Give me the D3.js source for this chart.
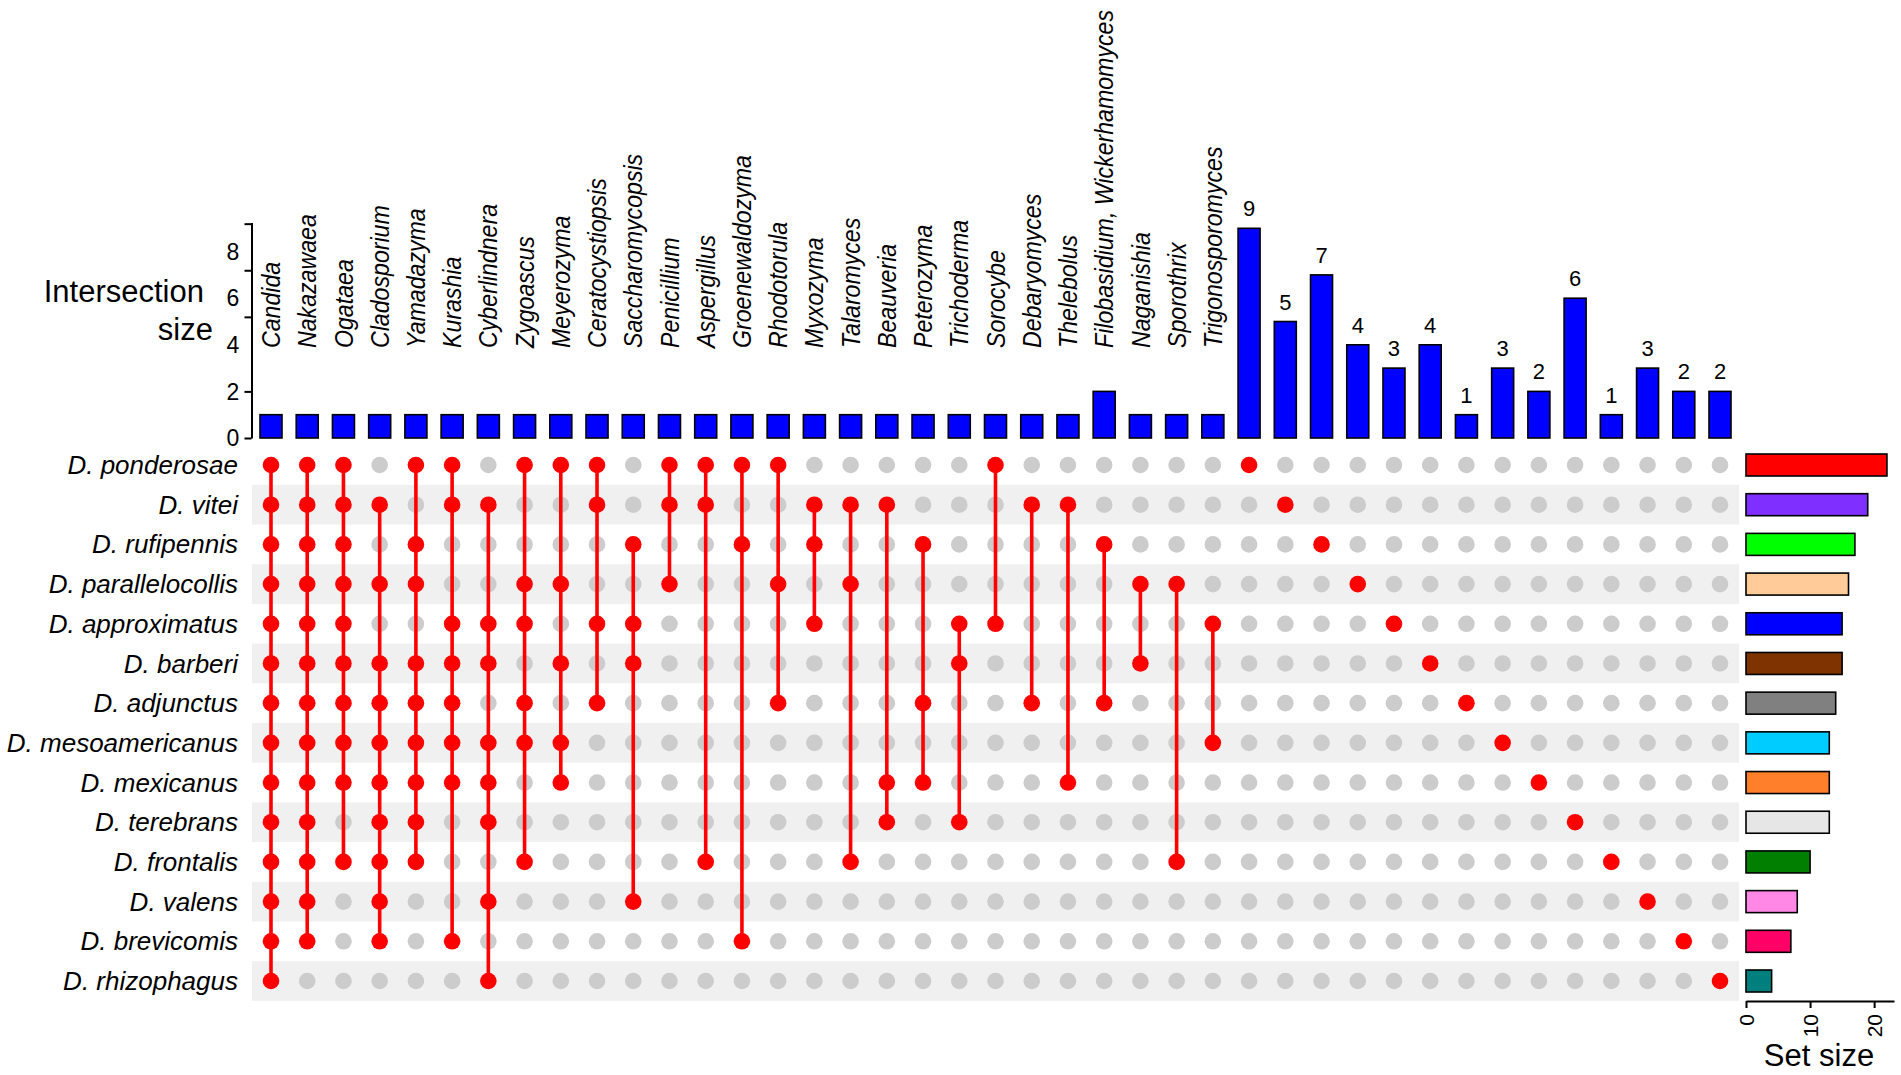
<!DOCTYPE html>
<html>
<head>
<meta charset="utf-8">
<script src="https://cdn.jsdelivr.net/npm/d3@7"></script>
<style>
  body { margin: 0; background: #fff; }
  text { font-family: "Liberation Sans", Arial, sans-serif; fill: #000; }
</style>
</head>
<body>
<div id="upset"></div>
<script>
// sets (rows of the matrix), top to bottom
const sets = ["D. ponderosae", "D. vitei", "D. rufipennis", "D. parallelocollis",
  "D. approximatus", "D. barberi", "D. adjunctus", "D. mesoamericanus",
  "D. mexicanus", "D. terebrans", "D. frontalis", "D. valens",
  "D. brevicomis", "D. rhizophagus"];
const setSizes = [22, 19, 17, 16, 15, 15, 14, 13, 13, 13, 10, 8, 7, 4];
const setColors = ["#ff0000", "#7f2fff", "#00ff00", "#ffcc99", "#0000ff", "#7f3300",
  "#808080", "#00ccff", "#ff7f2a", "#e6e6e6", "#007f00", "#ff88e6", "#ff0066", "#007f7f"];

// genus names written over the shared intersections
const genera = ["Candida", "Nakazawaea", "Ogataea", "Cladosporium", "Yamadazyma",
  "Kurashia", "Cyberlindnera", "Zygoascus", "Meyerozyma", "Ceratocystiopsis",
  "Saccharomycopsis", "Penicillium", "Aspergillus", "Groenewaldozyma", "Rhodotorula",
  "Myxozyma", "Talaromyces", "Beauveria", "Peterozyma", "Trichoderma", "Sorocybe",
  "Debaryomyces", "Thelebolus", "Filobasidium, Wickerhamomyces", "Naganishia",
  "Sporothrix", "Trigonosporomyces"];

// intersection sizes, left to right
const interSizes = [1, 1, 1, 1, 1, 1, 1, 1, 1, 1, 1, 1, 1, 1, 1, 1, 1, 1, 1, 1, 1, 1, 1, 2, 1, 1, 1,
  9, 5, 7, 4, 3, 4, 1, 3, 2, 6, 1, 3, 2, 2];

// members of each intersection (row index into sets)
const interMembers = [
  [0,1,2,3,4,5,6,7,8,9,10,11,12,13],
  [0,1,2,3,4,5,6,7,8,9,10,11,12],
  [0,1,2,3,4,5,6,7,8,10],
  [1,3,5,6,7,8,9,10,11,12],
  [0,2,3,5,6,7,8,9,10],
  [0,1,4,5,6,7,8,12],
  [1,4,5,7,8,9,11,13],
  [0,3,4,6,7,10],
  [0,3,5,7,8],
  [0,1,4,6],
  [2,4,5,11],
  [0,1,3],
  [0,1,10],
  [0,2,12],
  [0,3,6],
  [1,2,4],
  [1,3,10],
  [1,8,9],
  [2,6,8],
  [4,5,9],
  [0,4],
  [1,6],
  [1,8],
  [2,6],
  [3,5],
  [3,10],
  [4,7],
  [0],[1],[2],[3],[4],[5],[6],[7],[8],[9],[10],[11],[12],[13]
];

const yTickLabels = [0, 2, 4, 6, 8];
const yTickMarks = [0, 2, 5.2, 7.2, 9.2];
const setTicks = [0, 10, 20];

const width = 1901, height = 1075;

const svg = d3.select("#upset")
  .append("svg")
    .attr("width", width)
    .attr("height", height);

// scales
const cols = d3.range(interSizes.length);
const x = d3.scalePoint().domain(cols).range([271, 1720]);
const rowY = d3.scalePoint().domain(sets).range([465, 981]);
const rowH = rowY.step();
const y = d3.scaleLinear().domain([0, 9.25]).range([438, 222.5]);
const sx = d3.scaleLinear().domain([0, 23.1]).range([1746, 1894]);

const barW = 22;

// row stripes
svg.append("g")
  .selectAll("rect")
  .data(sets.filter((d, i) => i % 2 === 1))
  .join("rect")
    .attr("x", 252)
    .attr("y", d => rowY(d) - rowH / 2)
    .attr("width", 1739 - 252)
    .attr("height", rowH)
    .attr("fill", "#f0f0f0");

// grey background dots
const cells = [];
cols.forEach(c => sets.forEach((s, r) => cells.push({c: c, r: r, on: interMembers[c].includes(r)})));

svg.append("g")
  .selectAll("circle")
  .data(cells.filter(d => !d.on))
  .join("circle")
    .attr("cx", d => x(d.c))
    .attr("cy", d => rowY(sets[d.r]))
    .attr("r", 8.3)
    .attr("fill", "#cccccc");

// connecting lines
svg.append("g")
  .selectAll("line")
  .data(cols.filter(c => interMembers[c].length > 1))
  .join("line")
    .attr("x1", c => x(c))
    .attr("x2", c => x(c))
    .attr("y1", c => rowY(sets[d3.min(interMembers[c])]))
    .attr("y2", c => rowY(sets[d3.max(interMembers[c])]))
    .attr("stroke", "#ff0000")
    .attr("stroke-width", 3.6);

// red member dots
svg.append("g")
  .selectAll("circle")
  .data(cells.filter(d => d.on))
  .join("circle")
    .attr("cx", d => x(d.c))
    .attr("cy", d => rowY(sets[d.r]))
    .attr("r", 8.3)
    .attr("fill", "#ff0000");

// intersection bars
svg.append("g")
  .selectAll("rect")
  .data(cols)
  .join("rect")
    .attr("x", c => x(c) - barW / 2)
    .attr("y", c => y(interSizes[c]))
    .attr("width", barW)
    .attr("height", c => y(0) - y(interSizes[c]))
    .attr("fill", "#0000ff")
    .attr("stroke", "#000")
    .attr("stroke-width", 1.6);

// counts over the single-set bars
svg.append("g")
  .selectAll("text")
  .data(cols.filter(c => c >= genera.length))
  .join("text")
    .attr("x", c => x(c))
    .attr("y", c => y(interSizes[c]) - 12)
    .attr("text-anchor", "middle")
    .style("font-size", "22px")
    .text(c => interSizes[c]);

// genus labels (slightly condensed, as in the original figure)
svg.append("g")
  .selectAll("text")
  .data(genera)
  .join("text")
    .attr("transform", (d, i) => `translate(${x(i)},348) rotate(-90) scale(0.89,1)`)
    .attr("dy", "0.35em")
    .style("font-size", "26px")
    .style("font-style", "italic")
    .text(d => d);

// y axis of intersection size
svg.append("g")
  .attr("transform", "translate(251.5,0)")
  .call(d3.axisLeft(y).tickValues(yTickMarks).tickFormat("").tickSize(7).tickSizeOuter(0))
  .call(g => g.selectAll("path, line").attr("stroke", "#000").attr("stroke-width", 2));

svg.append("g")
  .selectAll("text")
  .data(yTickLabels)
  .join("text")
    .attr("x", 233)
    .attr("y", d => y(d))
    .attr("dy", "0.36em")
    .attr("text-anchor", "middle")
    .style("font-size", "23px")
    .text(d => d);

svg.append("text").attr("x", 204).attr("y", 302).attr("text-anchor", "end")
  .style("font-size", "31px").text("Intersection");
svg.append("text").attr("x", 213).attr("y", 340).attr("text-anchor", "end")
  .style("font-size", "31px").text("size");

// set labels
svg.append("g")
  .selectAll("text")
  .data(sets)
  .join("text")
    .attr("x", 238)
    .attr("y", d => rowY(d))
    .attr("dy", "0.35em")
    .attr("text-anchor", "end")
    .style("font-size", "26px")
    .style("font-style", "italic")
    .text(d => d);

// set size bars
svg.append("g")
  .selectAll("rect")
  .data(sets)
  .join("rect")
    .attr("x", sx(0))
    .attr("y", d => rowY(d) - 11)
    .attr("width", (d, i) => sx(setSizes[i]) - sx(0))
    .attr("height", 22)
    .attr("fill", (d, i) => setColors[i])
    .attr("stroke", "#000")
    .attr("stroke-width", 1.6);

const sAxis = svg.append("g")
  .attr("transform", "translate(0,1001)")
  .call(d3.axisBottom(sx).tickValues(setTicks).tickSize(7).tickSizeOuter(0));
sAxis.selectAll("path, line").attr("stroke", "#000").attr("stroke-width", 2);
sAxis.selectAll("text")
  .attr("transform", "rotate(-90)")
  .attr("x", -13)
  .attr("y", 0)
  .attr("dy", "0.35em")
  .attr("text-anchor", "end")
  .style("font-size", "21px")
  .style("font-family", "'Liberation Sans', Arial, sans-serif")
  .attr("fill", "#000");

svg.append("text").attr("x", 1819).attr("y", 1066).attr("text-anchor", "middle")
  .style("font-size", "31px").text("Set size");
</script>
</body>
</html>
